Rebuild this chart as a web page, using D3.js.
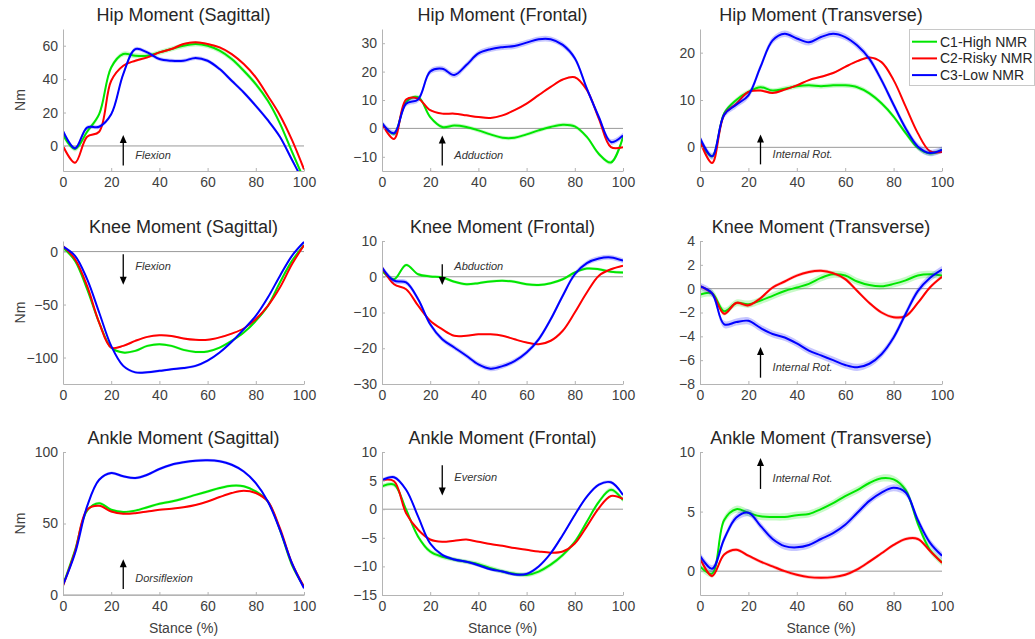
<!DOCTYPE html>
<html><head><meta charset="utf-8">
<script src="https://cdn.jsdelivr.net/npm/d3@7"></script>
<style>body{margin:0;background:#fff} text{font-family:"Liberation Sans",Arial,sans-serif}</style>
</head><body><svg id="c" width="1035" height="639"></svg>
<script>
// ---------- data ----------
const stance = [0,5,10,15,20,25,30,35,40,45,50,55,60,65,70,75,80,85,90,95,100];
const seriesNames = ["C1-High NMR","C2-Risky NMR","C3-Low NMR"];
const xTicks = [0,20,40,60,80,100];

// Hip sagittal
const hipSagC1 = [6.5,-1.8,8.5,19,47,55,54,54,56,58,60,61,60,57,52,45,37,27,13.5,-3.4,-20];
const hipSagC2 = [0,-10,5.5,8.5,39,48,51,53,56,58,61,62,61,59,55,49,41,30,18.4,3.6,-14];
const hipSagC3 = [9,-1.4,11,11.5,19,43,58,56,52,51,51,52.7,51,46,39,32,24,15.4,5.5,-8.3,-22];
// Hip frontal
const hipFroC1 = [1.7,-1.9,9.3,11,4,0.5,1,0.5,-0.7,-2.1,-3.3,-3.3,-2.1,-0.7,0.5,1.3,0.7,-3,-9,-12,-3];
const hipFroC2 = [1.7,-3.7,10.2,10.5,6.4,5.2,5.2,4.6,4,3.7,4.6,6.4,8.7,11.7,14.6,17.2,18,13.5,3.4,-6.6,-6.6];
const hipFroC3 = [1.9,-1.7,8.7,10.2,20,21,18.8,22.3,26.4,27.9,28.6,29,30.2,31.4,31.4,29.4,24.7,14,4,-4.8,-2.5];
// Hip transverse
const hipTraC1 = [1.3,-1.9,7.2,10,11.7,12.7,12,12.4,12.9,13.1,12.9,13.1,13.1,12.7,11.4,9.3,6.5,3,-0.1,-1.3,-0.6];
const hipTraC2 = [1.3,-3.3,6.9,9.2,11.7,12,11.5,12.2,13.1,14.2,14.9,15.7,17,18.2,19,18,14.2,8.6,3,-0.8,-1];
const hipTraC3 = [2,-1.9,6.9,9,11,17,22.6,24,23,22.2,23.3,24,23.3,21.5,18.7,14.2,9,4,0.2,-1.2,-0.5];
// Knee sagittal
const kneeSagC1 = [3.8,-8.8,-35.5,-67,-90.6,-95.3,-93.7,-89,-87.4,-89,-92.8,-94.7,-94.3,-90.6,-84.3,-76.4,-65.4,-51.3,-29.2,-8.8,6];
const kneeSagC2 = [5.3,-7.2,-32.4,-67,-90.6,-89,-84.3,-80.5,-79,-79.6,-82,-83.3,-83.3,-81,-77.4,-72.6,-63.8,-51.3,-34,-12,6];
const kneeSagC3 = [4.7,-4,-26,-57.5,-89,-107.9,-114,-114,-112.6,-111,-110,-107.9,-103,-95.3,-85.2,-73.3,-60.7,-43.4,-23,-4,9];
// Knee frontal
const kneeFroC1 = [1.7,-0.7,3.3,0.7,0.1,-0.2,-1.4,-2.1,-1.8,-1.3,-1.1,-1.4,-2.1,-2.3,-1.8,-0.7,1.2,2.3,2.1,1.4,1.2];
const kneeFroC2 = [2.6,-2.1,-3.5,-8.1,-12.3,-14.7,-16.5,-16.5,-16.1,-16.1,-16.5,-17.5,-18.4,-18.9,-17.9,-15.1,-10,-4.4,0.3,2.1,3.1];
const kneeFroC3 = [2.6,-1.1,-1.6,-6.3,-13.3,-17.5,-19.8,-22.1,-24.5,-25.7,-25,-23.6,-21.2,-17.5,-11.9,-5.3,0.7,3.8,5.1,5.4,4.5];
// Knee transverse
const kneeTraC1 = [-0.5,-0.4,-1.9,-1.2,-1.3,-1.0,-0.6,-0.2,0.1,0.4,0.9,1.2,1.1,0.6,0.3,0.2,0.4,0.7,1.1,1.2,1.1];
const kneeTraC2 = [0.2,-0.4,-2.1,-1.2,-1.4,-0.8,0.1,0.6,1.1,1.4,1.5,1.3,0.8,-0.2,-1.2,-2,-2.4,-2.3,-1.2,0.1,1];
const kneeTraC3 = [0.2,-0.4,-3.0,-2.8,-2.7,-3.3,-3.8,-4.1,-4.6,-5.2,-5.6,-6,-6.4,-6.6,-6.3,-5.5,-4.1,-2.1,-0.2,0.9,1.6];
// Ankle sagittal
const ankSagC1 = [7,31.5,59,64.2,59.6,58,59,61.4,63.8,65.4,67.5,70,72.4,74.8,76.4,76,72.4,65.4,45.6,21,5.8];
const ankSagC2 = [6.3,30.4,59.6,62.4,58.4,56.8,57.2,58.4,59.6,60.3,61.4,63,65.4,68.5,71.3,72.9,71.3,65.4,46.7,22.2,5.8];
const ankSagC3 = [7,29.2,62,80.6,85.3,83,81.8,84.1,88.1,91.1,92.8,93.9,94.2,93.5,91.1,86.4,78.3,65.4,45.6,22.2,4.7];
// Ankle frontal
const ankFroC1 = [4,4.3,-0.1,-4.8,-7.4,-8.3,-8.8,-9.2,-9.6,-10.3,-10.9,-11.3,-11.5,-10.9,-9.7,-8,-5.7,-2.2,1.3,3.4,1.6];
const ankFroC2 = [5.1,4.9,-0.7,-3.6,-5.3,-5.7,-5.5,-5.3,-5.7,-6.1,-6.4,-6.8,-7.1,-7.4,-7.6,-7.4,-6,-3,0.2,2.3,1.8];
const ankFroC3 = [5.1,5.6,3.4,-1.3,-6,-8,-8.8,-9.2,-9.8,-10.5,-10.9,-11.4,-11.3,-10,-7.7,-4.5,-1,2.2,4.3,4.7,2.5];
// Ankle transverse
const ankTraC1 = [0.4,-0.2,4.3,5.2,4.9,4.6,4.55,4.55,4.7,4.8,5.2,5.7,6.3,6.8,7.4,7.8,7.7,6.8,4,1.8,0.75];
const ankTraC2 = [1.1,-0.4,1.4,1.8,1.3,0.8,0.4,0,-0.3,-0.5,-0.55,-0.5,-0.3,0.15,0.8,1.5,2.2,2.7,2.7,1.7,0.7];
const ankTraC3 = [1.3,0.2,2.7,4.5,4.9,3.8,2.7,2.1,2,2.2,2.7,3.2,3.9,4.9,5.9,6.6,7,6.6,4.3,2.4,1.3];

// band half-widths (C1, C2, C3)
const bandHipSag = [1.5,0.6,1.2], bandHipFro = [0.7,0.3,1.0], bandHipTra = [0.5,0.2,0.7];
const bandKneeSag = [1.2,0.8,1.2], bandKneeFro = [0.4,0.2,0.7], bandKneeTra = [0.3,0.15,0.3];
const bandAnkSag = [1.0,0.5,1.0], bandAnkFro = [0.4,0.1,0.3], bandAnkTra = [0.3,0.15,0.3];

const titles = ["Hip Moment (Sagittal)","Hip Moment (Frontal)","Hip Moment (Transverse)",
  "Knee Moment (Sagittal)","Knee Moment (Frontal)","Knee Moment (Transverse)",
  "Ankle Moment (Sagittal)","Ankle Moment (Frontal)","Ankle Moment (Transverse)"];
const yDomains = [[-15,70],[-15,35],[-5,25],[-125,10],[-30,10],[-8,4],[0,100],[-15,10],[-2,10]];
const yTickSets = [[0,20,40,60],[-10,0,10,20,30],[0,10,20],[-100,-50,0],[-30,-20,-10,0,10],
  [-8,-6,-4,-2,0,2,4],[0,50,100],[-15,-10,-5,0,5,10],[0,5,10]];
// annotations: label, arrow [x, tail y, head y], text [x, y] (data units)
const annLabels = ["Flexion","Adduction","Internal Rot.","Flexion","Abduction","Internal Rot.","Dorsiflexion","Eversion","Internal Rot."];
const annArrow = [[25,-11.7,6.5],[25,-13.1,-2.5],[25,-3.6,2.7],[25,-2.5,-31.4],[25,3.5,-2.3],[25,-7.47,-4.9],[25,4.2,25],[25,7.7,2.4],[25,6.9,9.5]];
const annText = [[30,-5.3],[30,-9.3],[30,-1.5],[30,-14.2],[30,2.9],[30,-6.6],[30,11.7],[30,5.6],[30,7.8]];

const panelSeries = [
  [hipSagC1,hipSagC2,hipSagC3],[hipFroC1,hipFroC2,hipFroC3],[hipTraC1,hipTraC2,hipTraC3],
  [kneeSagC1,kneeSagC2,kneeSagC3],[kneeFroC1,kneeFroC2,kneeFroC3],[kneeTraC1,kneeTraC2,kneeTraC3],
  [ankSagC1,ankSagC2,ankSagC3],[ankFroC1,ankFroC2,ankFroC3],[ankTraC1,ankTraC2,ankTraC3]];
const panelBands = [bandHipSag,bandHipFro,bandHipTra,bandKneeSag,bandKneeFro,bandKneeTra,bandAnkSag,bandAnkFro,bandAnkTra];

// ---------- layout / style ----------
const colors = ["#00e600","#ff0000","#0000ff"];
const cols = [[63,304],[382,623],[700,942]];
const rows = [[29,171],[241,384],[452,595]];
const svg = d3.select("#c");
const axisCol = "#b4b4b4", tickText = "#404040";

panelSeries.forEach((ser, i) => {
  const r = Math.floor(i/3), c = i%3;
  const [x0,x1] = cols[c], [y0,y1] = rows[r];
  const x = d3.scaleLinear().domain([0,100]).range([x0,x1]);
  const y = d3.scaleLinear().domain(yDomains[i]).range([y1,y0]);
  const g = svg.append("g");
  const clipId = "clip"+i;
  svg.append("clipPath").attr("id",clipId).append("rect")
    .attr("x",x0).attr("y",y0).attr("width",x1-x0).attr("height",y1-y0);

  g.append("line").attr("x1",x0).attr("x2",x1).attr("y1",y(0)).attr("y2",y(0))
    .attr("stroke","#9a9a9a").attr("stroke-width",1);

  const plot = g.append("g").attr("clip-path",`url(#${clipId})`);
  const curve = d3.curveCatmullRom.alpha(0.5);
  ser.forEach((vals, k) => {
    const bw = panelBands[i][k];
    const pts = stance.map((s,j)=>({s, v: vals[j]}));
    const area = d3.area().x(d=>x(d.s)).y0(d=>y(d.v-bw)).y1(d=>y(d.v+bw)).curve(curve);
    plot.append("path").attr("d",area(pts)).attr("fill",colors[k]).attr("fill-opacity",0.22);
    const line = d3.line().x(d=>x(d.s)).y(d=>y(d.v)).curve(curve);
    plot.append("path").attr("d",line(pts)).attr("fill","none")
      .attr("stroke",colors[k]).attr("stroke-width",2).attr("stroke-linejoin","round");
  });

  const ax = g.append("g").attr("transform",`translate(0,${y1})`)
    .call(d3.axisBottom(x).tickValues(xTicks).tickSizeInner(-3).tickSizeOuter(0).tickPadding(6));
  const ay = g.append("g").attr("transform",`translate(${x0},0)`)
    .call(d3.axisLeft(y).tickValues(yTickSets[i]).tickSizeInner(-3).tickSizeOuter(0).tickPadding(5));
  [ax,ay].forEach(a=>{
    a.select(".domain").attr("stroke",axisCol);
    a.selectAll(".tick line").attr("stroke",axisCol);
    a.selectAll(".tick text").attr("fill",tickText).style("font-size","14px")
      .style("font-family",'"Liberation Sans",Arial,sans-serif');
  });

  g.append("text").attr("x",(x0+x1)/2).attr("y",y0-8).attr("text-anchor","middle")
    .attr("fill","#262626").style("font-size","18px").text(titles[i]);
  if (c===0) {
    g.append("text").attr("transform",`translate(${25},${(y0+y1)/2}) rotate(-90)`)
      .attr("text-anchor","middle").attr("fill",tickText).style("font-size","14px").text("Nm");
  }
  if (r===2) {
    g.append("text").attr("x",(x0+x1)/2).attr("y",y1+38).attr("text-anchor","middle")
      .attr("fill",tickText).style("font-size","14px").text("Stance (%)");
  }

  const [ax_, ty, hy] = annArrow[i];
  const dir = Math.sign(y(hy)-y(ty));
  const hx = x(ax_), hyp = y(hy);
  g.append("line").attr("x1",hx).attr("x2",hx).attr("y1",y(ty)).attr("y2",hyp - dir*6)
    .attr("stroke","#000").attr("stroke-width",1.3);
  g.append("path").attr("d",`M${hx},${hyp} L${hx-3.5},${hyp-dir*8} L${hx+3.5},${hyp-dir*8} Z`).attr("fill","#000");
  g.append("text").attr("x",x(annText[i][0])).attr("y",y(annText[i][1])).attr("dy","0.35em")
    .attr("fill","#333").style("font-size","11px").style("font-style","italic").text(annLabels[i]);
});

// legend
const lg = svg.append("g");
lg.append("rect").attr("x",909.5).attr("y",29.5).attr("width",125).attr("height",56)
  .attr("fill","#fff").attr("stroke","#c8c8c8");
seriesNames.forEach((n,k)=>{
  const yy = 41.7 + k*16.7;
  lg.append("line").attr("x1",912).attr("x2",937).attr("y1",yy).attr("y2",yy)
    .attr("stroke",colors[k]).attr("stroke-width",2);
  lg.append("text").attr("x",940).attr("y",yy).attr("dy","0.35em").attr("fill","#262626")
    .style("font-size","14px").text(n);
});
</script></body></html>
